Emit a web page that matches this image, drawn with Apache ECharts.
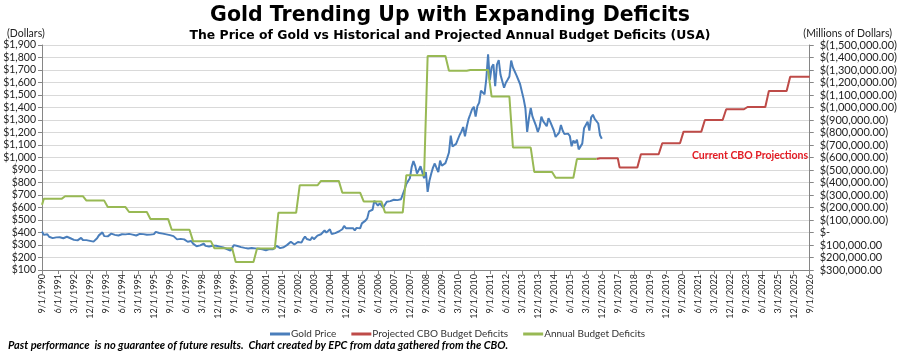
<!DOCTYPE html>
<html>
<head>
<meta charset="utf-8">
<script src="https://cdn.jsdelivr.net/npm/echarts@6/dist/echarts.min.js"></script>
<style>
html,body{margin:0;padding:0;background:#fff;}
#chart{width:900px;height:352px;}
</style>
</head>
<body>
<div id="chart"></div>
<script>
// ---- DATA ----
// Monthly categories from 9/1/1990 to 9/1/2026 (labels shown every 9 months)
var startYear = 1990, startMonth = 9, monthCount = 433;

// Gold price (USD/oz), monthly, 9/1990 .. 12/2016
var goldPrice = [
  408, 381, 384, 386,                                             // 1990 Sep-Dec
  366, 362, 355, 357, 361, 368, 362, 347, 354, 358, 366, 353,     // 1991
  354, 353, 341, 337, 337, 343, 357, 340, 349, 339, 334, 333,     // 1992
  330, 327, 337, 354, 377, 378, 401, 371, 355, 369, 370, 391,     // 1993
  378, 381, 389, 376, 387, 386, 384, 385, 395, 389, 383, 383,     // 1994
  375, 376, 392, 389, 384, 387, 383, 382, 384, 383, 387, 387,     // 1995
  405, 401, 396, 392, 391, 382, 385, 387, 379, 379, 371, 369,     // 1996
  345, 358, 349, 340, 345, 334, 326, 325, 332, 311, 296, 290,     // 1997
  302, 297, 301, 310, 293, 296, 288, 273, 294, 292, 294, 288,     // 1998
  287, 288, 280, 286, 268, 261, 255, 254, 299, 299, 292, 290,     // 1999
  283, 293, 277, 275, 272, 288, 276, 277, 273, 264, 270, 272,     // 2000
  266, 267, 258, 264, 268, 271, 266, 273, 293, 279, 275, 277,     // 2001
  282, 297, 301, 309, 326, 318, 304, 312, 324, 317, 319, 347,     // 2002
  368, 348, 334, 339, 364, 346, 354, 375, 388, 386, 398, 416,     // 2003
  399, 396, 426, 388, 393, 395, 391, 408, 416, 426, 453, 435,     // 2004
  422, 435, 428, 435, 417, 437, 429, 433, 473, 470, 495, 513,     // 2005
  569, 557, 582, 654, 653, 614, 633, 624, 600, 604, 646, 632,     // 2006
  651, 665, 662, 677, 659, 650, 666, 672, 743, 789, 783, 834,     // 2007
  923, 971, 933, 871, 885, 930, 918, 834, 884, 725, 814, 870,     // 2008
  919, 952, 916, 883, 975, 934, 939, 955, 996, 1040, 1175, 1088,  // 2009
  1078, 1109, 1113, 1180, 1207, 1244, 1169, 1246, 1307, 1346, 1386, 1406, // 2010
  1327, 1411, 1439, 1535, 1536, 1505, 1628, 1825, 1620, 1722, 1746, 1570, // 2011
  1744, 1780, 1662, 1651, 1558, 1598, 1622, 1648, 1776, 1720, 1726, 1657, // 2012
  1664, 1588, 1598, 1469, 1394, 1205, 1314, 1396, 1327, 1324, 1253, 1205, // 2013
  1244, 1326, 1291, 1288, 1250, 1315, 1285, 1285, 1216, 1164, 1182, 1199, // 2014
  1260, 1214, 1187, 1180, 1191, 1172, 1090, 1135, 1115, 1142, 1065, 1060, // 2015
  1111, 1234, 1237, 1286, 1215, 1321, 1342, 1309, 1322, 1272, 1178, 1150  // 2016
];

// Annual budget balance (millions USD, negative = deficit), historical fiscal years
var histFiscalYears = [1990,1991,1992,1993,1994,1995,1996,1997,1998,1999,2000,2001,2002,2003,2004,2005,2006,2007,2008,2009,2010,2011,2012,2013,2014,2015,2016];
var histBalance = [-221036,-269238,-290321,-255051,-203186,-163952,-107431,-21884,69270,125610,236241,128236,-157758,-377585,-412727,-318346,-248181,-160701,-458553,-1412688,-1294373,-1299599,-1087024,-679775,-484602,-438496,-587412];

// Projected CBO budget balance (millions USD), fiscal years
var projFiscalYears = [2017,2018,2019,2020,2021,2022,2023,2024,2025,2026];
var projBalance = [-594000,-521000,-626000,-714000,-807000,-900000,-986000,-1004000,-1132000,-1246000];

// ---- BUILD ----
var categories = [], monthYM = [];
for (var i = 0; i < monthCount; i++) {
  var mm = (startMonth - 1 + i) % 12 + 1;
  var yy = startYear + Math.floor((startMonth - 1 + i) / 12);
  categories.push(mm + '/1/' + yy);
  monthYM.push([yy, mm]);
}
function fyOf(ym){ return ym[1] >= 10 ? ym[0] + 1 : ym[0]; }
var histMap = {}, projMap = {};
histFiscalYears.forEach(function(fy, k){ histMap[fy] = histBalance[k]; });
projFiscalYears.forEach(function(fy, k){ projMap[fy] = projBalance[k]; });

var goldSeries = categories.map(function(c, i){ return i < goldPrice.length ? goldPrice[i] : null; });
var lastHistIdx = -1;
var histSeries = monthYM.map(function(ym, i){
  var fy = fyOf(ym);
  if (histMap[fy] !== undefined) { lastHistIdx = i; return histMap[fy]; }
  return null;
});
var projSeries = monthYM.map(function(ym, i){
  var fy = fyOf(ym);
  if (i === lastHistIdx) return histSeries[i];
  return projMap[fy] !== undefined ? projMap[fy] : null;
});

function commas(n){ return String(n).replace(/\B(?=(\d{3})+(?!\d))/g, ','); }

var FONT = 'Lato';
var chart = echarts.init(document.getElementById('chart'), null, {renderer: 'canvas'});
chart.setOption({
  backgroundColor: '#ffffff',
  animation: false,
  textStyle: {fontFamily: FONT},
  title: [
    {text: 'Gold Trending Up with Expanding Deficits', left: 'center', top: 0,
     textStyle: {fontFamily: 'DejaVu Sans', fontWeight: 'bold', fontSize: 20.5, color: '#000'}},
    {text: 'The Price of Gold vs Historical and Projected Annual Budget Deficits (USA)', left: 'center', top: 25,
     textStyle: {fontFamily: 'DejaVu Sans', fontWeight: 'bold', fontSize: 12.4, color: '#000'}},
    {text: '(Dollars)', left: 2, top: 23, textStyle: {fontFamily: FONT, fontWeight: 'normal', fontSize: 10.5, color: '#222'}},
    {text: '(Millions of Dollars)', right: 3, top: 23, textStyle: {fontFamily: FONT, fontWeight: 'normal', fontSize: 10.5, color: '#222'}},
    {text: 'Past performance  is no guarantee of future results.  Chart created by EPC from data gathered from the CBO.', left: 3, top: 335,
     textStyle: {fontFamily: FONT, fontWeight: 'bold', fontStyle: 'italic', fontSize: 11, color: '#000'}},
    {text: 'Current CBO Projections', left: 687, top: 145,
     textStyle: {fontFamily: FONT, fontWeight: 'bold', fontSize: 10.5, color: '#e31b23'}}
  ],
  legend: {
    top: 324, left: 265, itemWidth: 20, itemHeight: 3, itemGap: 15, icon: 'rect',
    textStyle: {fontFamily: FONT, fontSize: 10, color: '#333', padding: [0,0,0,-4]},
    data: ['Gold Price', 'Projected CBO Budget Deficits', 'Annual Budget Deficits']
  },
  grid: {left: 42, right: 83, top: 45, bottom: 82, containLabel: false},
  xAxis: {
    type: 'category', data: categories, boundaryGap: false,
    axisLine: {show: true, onZero: false, lineStyle: {color: '#868686', width: 1}},
    axisTick: {show: true, interval: 8, length: 4, lineStyle: {color: '#868686'}},
    axisLabel: {interval: 8, rotate: 90, fontSize: 9, color: '#222', margin: 4, fontFamily: FONT},
    splitLine: {show: false}
  },
  yAxis: [
    {type: 'value', min: 100, max: 1900, interval: 100, position: 'left',
     axisLine: {show: true, lineStyle: {color: '#868686'}},
     axisTick: {show: true, length: 4, lineStyle: {color: '#868686'}},
     axisLabel: {fontSize: 10.5, color: '#222', margin: 6, fontFamily: FONT,
       formatter: function(v){ return '$' + commas(v); }},
     splitLine: {show: true, lineStyle: {color: '#d9d9d9', width: 1}}
    },
    {type: 'value', min: -1500000, max: 300000, interval: 100000, inverse: true, position: 'right',
     axisLine: {show: true, onZero: false, lineStyle: {color: '#868686'}},
     axisTick: {show: true, length: 4, lineStyle: {color: '#868686'}},
     axisLabel: {fontSize: 11, color: '#222', margin: 10, fontFamily: FONT,
       formatter: function(v){
         if (v === 0) return '$-';
         if (v < 0) return '$(' + commas(-v) + '.00)';
         return '$' + commas(v) + '.00';
       }},
     splitLine: {show: false}
    }
  ],
  series: [
    {name: 'Gold Price', type: 'line', yAxisIndex: 0, data: goldSeries, showSymbol: false,
     lineStyle: {color: '#4a7ebb', width: 2}, itemStyle: {color: '#4a7ebb'}, z: 2},
    {name: 'Projected CBO Budget Deficits', type: 'line', yAxisIndex: 1, data: projSeries, showSymbol: false,
     lineStyle: {color: '#be4b48', width: 2}, itemStyle: {color: '#be4b48'}, z: 3},
    {name: 'Annual Budget Deficits', type: 'line', yAxisIndex: 1, data: histSeries, showSymbol: false,
     lineStyle: {color: '#98b954', width: 2}, itemStyle: {color: '#98b954'}, z: 4}
  ]
});
</script>
</body>
</html>
